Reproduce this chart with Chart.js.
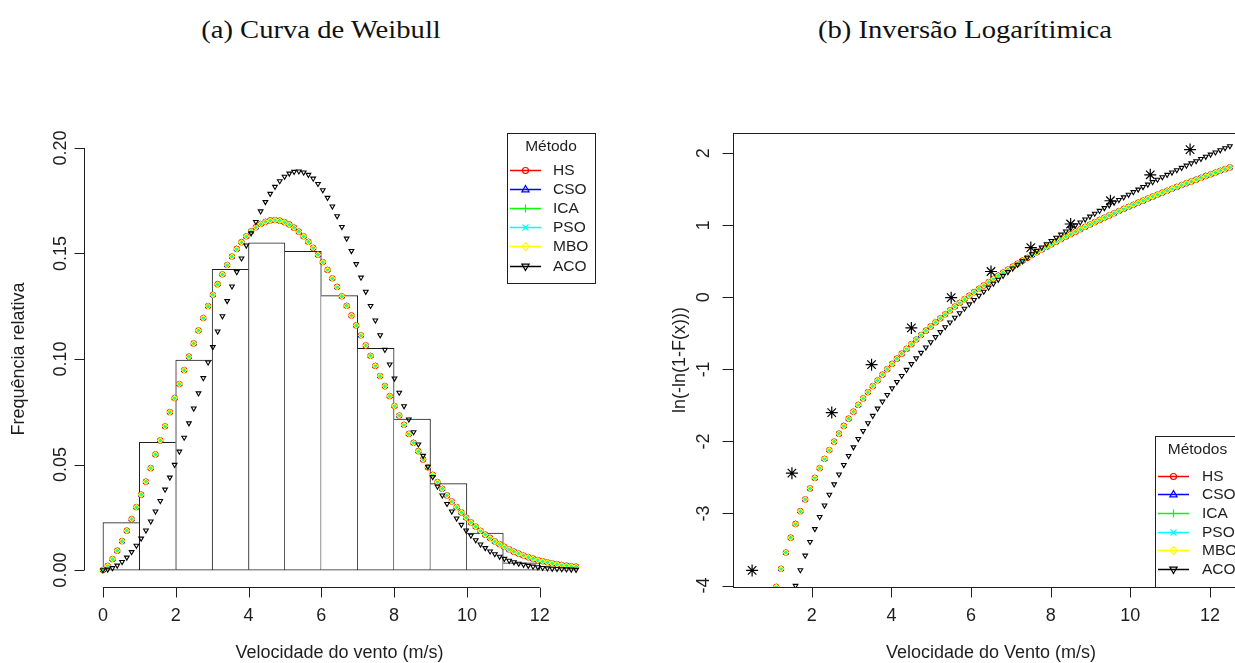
<!DOCTYPE html>
<html>
<head>
<meta charset="utf-8">
<script src="https://cdn.jsdelivr.net/npm/chart.js@4.4.1/dist/chart.umd.min.js"></script>
<style>
html, body { margin: 0; padding: 0; background: #fff; overflow: hidden; }
body { width: 1235px; height: 663px; position: relative; }
canvas { position: absolute; top: 0; }
#weibull-canvas { left: 0; }
#loginv-canvas { left: 617px; }
.panel-title {
    position: absolute; top: 12px; line-height: 36px;
    font-family: "Liberation Serif", "DejaVu Serif", serif; font-size: 25px;
    color: #111; white-space: nowrap;
    transform: translateX(-50%) scaleX(1.145);
}
</style>
</head>
<body>
<div class="panel-title" style="left:321px">(a) Curva de Weibull</div>
<div class="panel-title" style="left:965px">(b) Inversão Logarítimica</div>
<canvas id="weibull-canvas" width="617" height="663"></canvas>
<canvas id="loginv-canvas" width="700" height="663"></canvas>
<script>
// Methods and how R drew them
const methods = ['HS', 'CSO', 'ICA', 'PSO', 'MBO', 'ACO'];
const methodColors = ['#ff0000', '#0000ff', '#00ff00', '#00ffff', '#ffff00', '#000000'];
const pointStyles = ['circle', 'triangle', 'cross', 'crossRot', 'rectRot', 'triangle'];
const legendShapes = ['circle', 'up', 'plus', 'cross', 'diamond', 'down'];

// (a) histogram of wind speed, 1 m/s bins
const binMids = [0.5, 1.5, 2.5, 3.5, 4.5, 5.5, 6.5, 7.5, 8.5, 9.5, 10.5, 11.5, 12.5];
const relFreq = [0.0225, 0.0605, 0.0995, 0.1425, 0.155, 0.151, 0.130, 0.105, 0.0715, 0.041, 0.0175, 0.0035, 0.0005];

// (a) fitted densities
const speedGrid = [
    0, 0.1313, 0.2626, 0.3939, 0.5253, 0.6566, 0.7879, 0.9192, 1.0505, 1.1818,
    1.3131, 1.4444, 1.5758, 1.7071, 1.8384, 1.9697, 2.1010, 2.2323, 2.3636, 2.4949,
    2.6263, 2.7576, 2.8889, 3.0202, 3.1515, 3.2828, 3.4141, 3.5455, 3.6768, 3.8081,
    3.9394, 4.0707, 4.2020, 4.3333, 4.4646, 4.5960, 4.7273, 4.8586, 4.9899, 5.1212,
    5.2525, 5.3838, 5.5152, 5.6465, 5.7778, 5.9091, 6.0404, 6.1717, 6.3030, 6.4343,
    6.5657, 6.6970, 6.8283, 6.9596, 7.0909, 7.2222, 7.3535, 7.4848, 7.6162, 7.7475,
    7.8788, 8.0101, 8.1414, 8.2727, 8.4040, 8.5354, 8.6667, 8.7980, 8.9293, 9.0606,
    9.1919, 9.3232, 9.4545, 9.5859, 9.7172, 9.8485, 9.9798, 10.1111, 10.2424, 10.3737,
    10.5051, 10.6364, 10.7677, 10.8990, 11.0303, 11.1616, 11.2929, 11.4242, 11.5556, 11.6869,
    11.8182, 11.9495, 12.0808, 12.2121, 12.3434, 12.4747, 12.6061, 12.7374, 12.8687, 13.0
];
// HS, CSO, ICA, PSO and MBO lie on top of each other
const fitDensity = [
    0, 0.0020, 0.0052, 0.0092, 0.0137, 0.0187, 0.0241, 0.0298, 0.0357, 0.0419,
    0.0483, 0.0548, 0.0614, 0.0681, 0.0748, 0.0815, 0.0881, 0.0947, 0.1011, 0.1074,
    0.1135, 0.1194, 0.1250, 0.1304, 0.1354, 0.1401, 0.1445, 0.1485, 0.1521, 0.1553,
    0.1581, 0.1605, 0.1624, 0.1639, 0.1650, 0.1656, 0.1658, 0.1655, 0.1648, 0.1637,
    0.1622, 0.1603, 0.1581, 0.1555, 0.1526, 0.1494, 0.1459, 0.1422, 0.1382, 0.1341,
    0.1297, 0.1252, 0.1206, 0.1159, 0.1112, 0.1064, 0.1015, 0.0967, 0.0919, 0.0871,
    0.0824, 0.0777, 0.0732, 0.0688, 0.0645, 0.0603, 0.0563, 0.0524, 0.0487, 0.0451,
    0.0417, 0.0385, 0.0354, 0.0325, 0.0298, 0.0273, 0.0249, 0.0226, 0.0206, 0.0186,
    0.0168, 0.0152, 0.0136, 0.0123, 0.0110, 0.0098, 0.0087, 0.0078, 0.0069, 0.0061,
    0.0054, 0.0047, 0.0042, 0.0037, 0.0032, 0.0028, 0.0024, 0.0021, 0.0018, 0.0016
];
const acoDensity = [
    0, 0.0003, 0.0010, 0.0022, 0.0039, 0.0060, 0.0086, 0.0116, 0.0150, 0.0188,
    0.0231, 0.0278, 0.0328, 0.0382, 0.0439, 0.0499, 0.0562, 0.0628, 0.0696, 0.0766,
    0.0838, 0.0910, 0.0984, 0.1057, 0.1131, 0.1203, 0.1275, 0.1344, 0.1412, 0.1477,
    0.1538, 0.1596, 0.1650, 0.1700, 0.1744, 0.1783, 0.1816, 0.1843, 0.1864, 0.1879,
    0.1887, 0.1889, 0.1884, 0.1873, 0.1855, 0.1830, 0.1800, 0.1764, 0.1723, 0.1677,
    0.1626, 0.1571, 0.1512, 0.1450, 0.1386, 0.1319, 0.1252, 0.1183, 0.1113, 0.1044,
    0.0975, 0.0908, 0.0841, 0.0777, 0.0714, 0.0654, 0.0596, 0.0542, 0.0490, 0.0441,
    0.0396, 0.0354, 0.0314, 0.0278, 0.0245, 0.0215, 0.0188, 0.0164, 0.0142, 0.0122,
    0.0105, 0.0089, 0.0076, 0.0064, 0.0054, 0.0045, 0.0038, 0.0031, 0.0026, 0.0021,
    0.0017, 0.0014, 0.0011, 0.0009, 0.0007, 0.0006, 0.0005, 0.0004, 0.0003, 0.0002
];

// (b) observed points ln(-ln(1-F(x))) at bin mids
const obsSpeed = [0.5, 1.5, 2.5, 3.5, 4.5, 5.5, 6.5, 7.5, 8.5, 9.5, 10.5, 11.5];
const obsLogInv = [-3.79, -2.44, -1.60, -0.935, -0.425, -0.005, 0.358, 0.69, 1.017, 1.34, 1.70, 2.05];

// (b) fitted curves
const logGrid = [
    0.5000, 0.6212, 0.7424, 0.8636, 0.9848, 1.1061, 1.2273, 1.3485, 1.4697, 1.5909,
    1.7121, 1.8333, 1.9545, 2.0758, 2.1970, 2.3182, 2.4394, 2.5606, 2.6818, 2.8030,
    2.9242, 3.0455, 3.1667, 3.2879, 3.4091, 3.5303, 3.6515, 3.7727, 3.8939, 4.0152,
    4.1364, 4.2576, 4.3788, 4.5000, 4.6212, 4.7424, 4.8636, 4.9848, 5.1061, 5.2273,
    5.3485, 5.4697, 5.5909, 5.7121, 5.8333, 5.9545, 6.0758, 6.1970, 6.3182, 6.4394,
    6.5606, 6.6818, 6.8030, 6.9242, 7.0455, 7.1667, 7.2879, 7.4091, 7.5303, 7.6515,
    7.7727, 7.8939, 8.0152, 8.1364, 8.2576, 8.3788, 8.5000, 8.6212, 8.7424, 8.8636,
    8.9848, 9.1061, 9.2273, 9.3485, 9.4697, 9.5909, 9.7121, 9.8333, 9.9545, 10.0758,
    10.1970, 10.3182, 10.4394, 10.5606, 10.6818, 10.8030, 10.9242, 11.0455, 11.1667, 11.2879,
    11.4091, 11.5303, 11.6515, 11.7727, 11.8939, 12.0152, 12.1364, 12.2576, 12.3788, 12.5000
];
const fitLogInv = [
    -5.923, -5.402, -4.975, -4.612, -4.297, -4.018, -3.768, -3.542, -3.336, -3.146,
    -2.969, -2.805, -2.652, -2.507, -2.371, -2.242, -2.120, -2.003, -1.892, -1.786,
    -1.685, -1.587, -1.493, -1.403, -1.316, -1.233, -1.152, -1.073, -0.997, -0.924,
    -0.852, -0.783, -0.716, -0.650, -0.586, -0.524, -0.464, -0.405, -0.347, -0.291,
    -0.236, -0.182, -0.129, -0.078, -0.027, 0.022, 0.070, 0.118, 0.164, 0.210,
    0.255, 0.299, 0.342, 0.384, 0.426, 0.467, 0.507, 0.547, 0.586, 0.624,
    0.662, 0.699, 0.735, 0.771, 0.807, 0.842, 0.876, 0.910, 0.944, 0.977,
    1.009, 1.042, 1.073, 1.105, 1.136, 1.166, 1.196, 1.226, 1.255, 1.284,
    1.313, 1.341, 1.370, 1.397, 1.425, 1.452, 1.478, 1.505, 1.531, 1.557,
    1.583, 1.608, 1.633, 1.658, 1.683, 1.707, 1.731, 1.755, 1.778, 1.802
];
const acoLogInv = [
    -7.428, -6.786, -6.258, -5.811, -5.422, -5.078, -4.770, -4.492, -4.237, -4.002,
    -3.785, -3.583, -3.393, -3.215, -3.047, -2.888, -2.737, -2.594, -2.457, -2.326,
    -2.200, -2.080, -1.965, -1.854, -1.746, -1.643, -1.543, -1.446, -1.353, -1.262,
    -1.174, -1.089, -1.005, -0.925, -0.846, -0.769, -0.695, -0.622, -0.551, -0.481,
    -0.413, -0.347, -0.282, -0.219, -0.156, -0.096, -0.036, 0.023, 0.080, 0.136,
    0.191, 0.245, 0.299, 0.351, 0.402, 0.453, 0.502, 0.551, 0.599, 0.647,
    0.693, 0.739, 0.784, 0.828, 0.872, 0.915, 0.958, 1.000, 1.041, 1.082,
    1.122, 1.162, 1.201, 1.240, 1.278, 1.315, 1.352, 1.389, 1.425, 1.461,
    1.497, 1.532, 1.566, 1.600, 1.634, 1.668, 1.701, 1.733, 1.766, 1.798,
    1.829, 1.860, 1.891, 1.922, 1.952, 1.982, 2.012, 2.042, 2.071, 2.099
];

// tick labels
const leftXTicks = [0, 2, 4, 6, 8, 10, 12];
const leftYTicks = [0, 0.05, 0.10, 0.15, 0.20];
const rightXTicks = [2, 4, 6, 8, 10, 12];
const rightYTicks = [-4, -3, -2, -1, 0, 1, 2];

const ink = '#1e1e1e';
const sans = '"Liberation Sans", Arial, Helvetica, sans-serif';

function toPoints(xs, ys) {
    return xs.map(function(x, i) { return {x: x, y: ys[i]}; });
}

function methodDatasets(xs, seriesList, clip) {
    return methods.map(function(m, i) {
        return {
            type: 'scatter',
            label: m,
            data: toPoints(xs, seriesList[i]),
            showLine: false,
            pointStyle: pointStyles[i],
            pointRotation: i === 5 ? 180 : 0,
            pointRadius: i === 5 ? 2.7 : 2.6,
            pointBorderColor: methodColors[i],
            pointBackgroundColor: 'rgba(0,0,0,0)',
            pointBorderWidth: 1.1,
            clip: clip,
            order: 6 - i,
        };
    });
}

function vText(ctx, text, x, y) {
    ctx.save();
    ctx.translate(x, y);
    ctx.rotate(-Math.PI / 2);
    ctx.fillText(text, 0, 0);
    ctx.restore();
}

function drawMarker(ctx, shape, x, y, r) {
    ctx.beginPath();
    if (shape === 'circle') {
        ctx.arc(x, y, r * 0.75, 0, Math.PI * 2);
    } else if (shape === 'up') {
        ctx.moveTo(x, y - r); ctx.lineTo(x + r * 0.9, y + r * 0.6); ctx.lineTo(x - r * 0.9, y + r * 0.6); ctx.closePath();
    } else if (shape === 'down') {
        ctx.moveTo(x, y + r); ctx.lineTo(x + r * 0.9, y - r * 0.6); ctx.lineTo(x - r * 0.9, y - r * 0.6); ctx.closePath();
    } else if (shape === 'plus') {
        ctx.moveTo(x - r, y); ctx.lineTo(x + r, y); ctx.moveTo(x, y - r); ctx.lineTo(x, y + r);
    } else if (shape === 'cross') {
        const d = r * 0.75;
        ctx.moveTo(x - d, y - d); ctx.lineTo(x + d, y + d); ctx.moveTo(x - d, y + d); ctx.lineTo(x + d, y - d);
    } else if (shape === 'diamond') {
        ctx.moveTo(x, y - r); ctx.lineTo(x + r, y); ctx.lineTo(x, y + r); ctx.lineTo(x - r, y); ctx.closePath();
    }
    ctx.stroke();
}

// R style legend box
function legendPlugin(box) {
    return {
        id: 'rLegend',
        afterDraw(chart) {
            const ctx = chart.ctx;
            ctx.save();
            ctx.fillStyle = '#fff';
            ctx.fillRect(box.x, box.y, box.w, box.h);
            ctx.strokeStyle = ink;
            ctx.lineWidth = 1;
            ctx.strokeRect(box.x + 0.5, box.y + 0.5, box.w, box.h);
            ctx.font = '15.5px ' + sans;
            ctx.textBaseline = 'middle';
            ctx.fillStyle = ink;
            ctx.textAlign = 'center';
            ctx.fillText(box.title, box.x + box.w / 2, box.titleY);
            ctx.textAlign = 'left';
            methods.forEach(function(m, i) {
                const y = Math.round(box.rowY + i * box.rowH) + 0.5;
                ctx.strokeStyle = methodColors[i];
                ctx.lineWidth = 1.5;
                ctx.beginPath();
                ctx.moveTo(box.lineX0, y);
                ctx.lineTo(box.lineX1, y);
                ctx.stroke();
                ctx.lineWidth = 1.2;
                drawMarker(ctx, legendShapes[i], box.markX, y, 4);
                ctx.fillStyle = ink;
                ctx.fillText(m, box.textX, y + 0.5);
            });
            ctx.restore();
        }
    };
}

// axes for (a): R draws them detached, only over the tick range
const weibullAxes = {
    id: 'weibullAxes',
    afterDraw(chart) {
        const ctx = chart.ctx, xs = chart.scales.x, ys = chart.scales.y, a = chart.chartArea;
        ctx.save();
        ctx.strokeStyle = ink;
        ctx.fillStyle = ink;
        ctx.lineWidth = 1;
        const ax = Math.round(a.left) + 0.5;
        const ay = Math.round(a.bottom) + 0.5;
        ctx.beginPath();
        ctx.moveTo(ax, ys.getPixelForValue(leftYTicks[0]));
        ctx.lineTo(ax, ys.getPixelForValue(leftYTicks[leftYTicks.length - 1]));
        leftYTicks.forEach(function(v) {
            const y = Math.round(ys.getPixelForValue(v)) + 0.5;
            ctx.moveTo(ax - 10, y); ctx.lineTo(ax, y);
        });
        ctx.moveTo(xs.getPixelForValue(leftXTicks[0]), ay);
        ctx.lineTo(xs.getPixelForValue(leftXTicks[leftXTicks.length - 1]), ay);
        leftXTicks.forEach(function(v) {
            const x = Math.round(xs.getPixelForValue(v)) + 0.5;
            ctx.moveTo(x, ay); ctx.lineTo(x, ay + 10);
        });
        ctx.stroke();

        ctx.font = '18px ' + sans;
        ctx.textAlign = 'center';
        ctx.textBaseline = 'middle';
        leftYTicks.forEach(function(v) { vText(ctx, v.toFixed(2), 61, ys.getPixelForValue(v)); });
        leftXTicks.forEach(function(v) { ctx.fillText(String(v), xs.getPixelForValue(v), 616); });
        ctx.fillText('Velocidade do vento (m/s)', (a.left + a.right) / 2, 653);
        vText(ctx, 'Frequência relativa', 19, (a.top + a.bottom) / 2);
        ctx.restore();
    }
};

// axes for (b): boxed plot
const logInvAxes = {
    id: 'logInvAxes',
    afterDraw(chart) {
        const ctx = chart.ctx, xs = chart.scales.x, ys = chart.scales.y, a = chart.chartArea;
        ctx.save();
        ctx.strokeStyle = ink;
        ctx.fillStyle = ink;
        ctx.lineWidth = 1;
        ctx.strokeRect(Math.round(a.left) + 0.5, Math.round(a.top) + 0.5,
            Math.round(a.right - a.left), Math.round(a.bottom - a.top));
        const ax = Math.round(a.left) + 0.5;
        const ay = Math.round(a.bottom) + 0.5;
        ctx.beginPath();
        rightYTicks.forEach(function(v) {
            const y = Math.round(ys.getPixelForValue(v)) + 0.5;
            ctx.moveTo(ax - 11, y); ctx.lineTo(ax, y);
        });
        rightXTicks.forEach(function(v) {
            const x = Math.round(xs.getPixelForValue(v)) + 0.5;
            ctx.moveTo(x, ay); ctx.lineTo(x, ay + 10);
        });
        ctx.stroke();

        ctx.font = '18px ' + sans;
        ctx.textAlign = 'center';
        ctx.textBaseline = 'middle';
        rightYTicks.forEach(function(v) { vText(ctx, String(v), 87, ys.getPixelForValue(v)); });
        rightXTicks.forEach(function(v) { ctx.fillText(String(v), xs.getPixelForValue(v), 616); });
        ctx.fillText('Velocidade do Vento (m/s)', (a.left + a.right) / 2, 653);
        vText(ctx, 'ln(-ln(1-F(x)))', 63, (a.top + a.bottom) / 2);
        ctx.restore();
    }
};

// (a) Curva de Weibull
// each shared edge is drawn once, by the taller of the two bars
const histogramSet = {
    type: 'bar',
    label: 'Histograma',
    data: toPoints(binMids, relFreq),
    backgroundColor: '#ffffff',
    borderColor: '#1e1e1e',
    borderWidth: function(c) {
        const i = c.dataIndex, n = relFreq.length;
        return {
            top: 1,
            bottom: 1,
            left: (i === 0 || relFreq[i] >= relFreq[i - 1]) ? 1 : 0,
            right: (i === n - 1 || relFreq[i] > relFreq[i + 1]) ? 1 : 0,
        };
    },
    borderSkipped: false,
    barPercentage: 1,
    categoryPercentage: 1,
    order: 10,
};

new Chart(document.getElementById('weibull-canvas').getContext('2d'), {
    type: 'scatter',
    data: {
        datasets: [histogramSet].concat(methodDatasets(speedGrid,
            [fitDensity, fitDensity, fitDensity, fitDensity, fitDensity, acoDensity], false)),
    },
    options: {
        responsive: false,
        animation: false,
        devicePixelRatio: 1,
        events: [],
        layout: {padding: {left: 84, right: 22, top: 131, bottom: 76}},
        plugins: {legend: {display: false}, tooltip: {enabled: false}},
        scales: {
            x: {type: 'linear', min: -0.52, max: 13.52, offset: false, display: false},
            y: {type: 'linear', min: -0.008, max: 0.208, display: false},
        },
    },
    plugins: [weibullAxes, legendPlugin({
        x: 507, y: 133, w: 88, h: 150, title: 'Método', titleY: 147,
        rowY: 169.5, rowH: 19.2, lineX0: 510, lineX1: 541, markX: 525.5, textX: 553,
    })],
});

// (b) Inversão Logarítimica
const observedSet = {
    type: 'scatter',
    label: 'Observado',
    data: toPoints(obsSpeed, obsLogInv),
    showLine: false,
    pointStyle: 'star',
    pointRadius: 6,
    pointBorderColor: '#000',
    pointBorderWidth: 1.2,
    clip: 0,
    order: 0,
};

new Chart(document.getElementById('loginv-canvas').getContext('2d'), {
    type: 'scatter',
    data: {
        datasets: [observedSet].concat(methodDatasets(logGrid,
            [fitLogInv, fitLogInv, fitLogInv, fitLogInv, fitLogInv, acoLogInv], 0)),
    },
    options: {
        responsive: false,
        animation: false,
        devicePixelRatio: 1,
        events: [],
        layout: {padding: {left: 116, right: 68, top: 133, bottom: 76}},
        plugins: {legend: {display: false}, tooltip: {enabled: false}},
        scales: {
            x: {type: 'linear', min: 0.02, max: 12.98, display: false},
            y: {type: 'linear', min: -4.02, max: 2.28, display: false},
        },
    },
    plugins: [logInvAxes, legendPlugin({
        x: 538, y: 436, w: 85, h: 151, title: 'Métodos', titleY: 450,
        rowY: 475.5, rowH: 18.7, lineX0: 541, lineX1: 572, markX: 556.5, textX: 585,
    })],
});
</script>
</body>
</html>
